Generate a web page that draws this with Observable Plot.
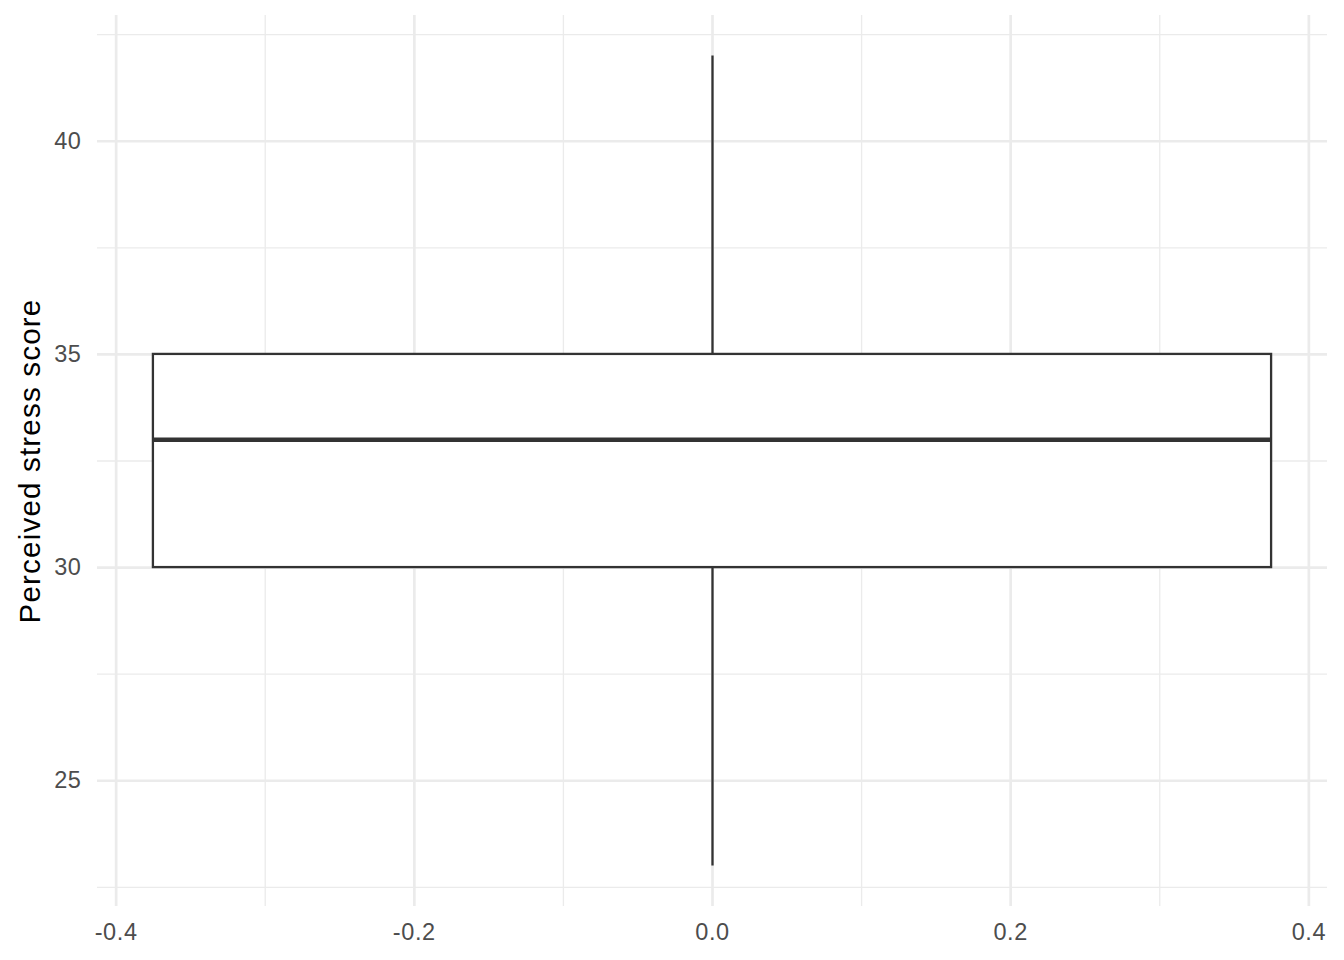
<!DOCTYPE html>
<html>
<head>
<meta charset="utf-8">
<script src="https://cdn.jsdelivr.net/npm/d3@7"></script>
<script src="https://cdn.jsdelivr.net/npm/@observablehq/plot@0.6"></script>
<style>
  body { margin: 0; background: #fff; }
  svg { font-family: "Liberation Sans", Arial, sans-serif; }
  g[aria-label="x-axis tick label"] text, g[aria-label="y-axis tick label"] text { letter-spacing: 0.6px; }
  g[aria-label="text"] text { letter-spacing: 1.2px; }
</style>
</head>
<body>
<div id="chart"></div>
<script>
// Box statistics
const groups = [0];
const lowerWhisker = [23];
const q1 = [30];
const median = [33];
const q3 = [35];
const upperWhisker = [42];
const boxHalfWidth = 0.375;

const xMajor = [-0.4, -0.2, 0.0, 0.2, 0.4];
const xMinor = [-0.3, -0.1, 0.1, 0.3];
const yMajor = [25, 30, 35, 40];
const yMinor = [22.5, 27.5, 32.5, 37.5, 42.5];
const yTitle = ["Perceived stress score"];

const boxes = groups.map((g, i) => ({
  x: g, x1: g - boxHalfWidth, x2: g + boxHalfWidth,
  lo: lowerWhisker[i], q1: q1[i], med: median[i], q3: q3[i], hi: upperWhisker[i]
}));

const grid = "#EBEBEB";
const chart = Plot.plot({
  width: 1344,
  height: 960,
  marginLeft: 97,
  marginRight: 17,
  marginTop: 15,
  marginBottom: 54,
  x: { domain: [-0.4125, 0.4125] },
  y: { domain: [22.05, 42.95] },
  style: { background: "#fff" },
  marks: [
    Plot.ruleX(xMinor, { stroke: grid, strokeWidth: 1.3 }),
    Plot.ruleY(yMinor, { stroke: grid, strokeWidth: 1.3 }),
    Plot.ruleX(xMajor, { stroke: grid, strokeWidth: 2.7 }),
    Plot.ruleY(yMajor, { stroke: grid, strokeWidth: 2.7 }),
    Plot.axisX(xMajor, { tickSize: 0, tickPadding: 17, tickFormat: d => d.toFixed(1), label: null, fill: "#4D4D4D", fontSize: 23.5 }),
    Plot.axisY(yMajor, { tickSize: 0, tickPadding: 16, label: null, fill: "#4D4D4D", fontSize: 23.5 }),
    Plot.ruleX(boxes, { x: "x", y1: "lo", y2: "q1", stroke: "#333333", strokeWidth: 2.3 }),
    Plot.ruleX(boxes, { x: "x", y1: "q3", y2: "hi", stroke: "#333333", strokeWidth: 2.3 }),
    Plot.rect(boxes, { x1: "x1", x2: "x2", y1: "q1", y2: "q3", fill: "white", stroke: "#333333", strokeWidth: 2.3 }),
    Plot.ruleY(boxes, { y: "med", x1: "x1", x2: "x2", stroke: "#333333", strokeWidth: 4.6 }),
    Plot.text(yTitle, {
      frameAnchor: "left", dx: -67, rotate: -90, fontSize: 29.5, fill: "black",
      textAnchor: "middle", lineAnchor: "middle"
    })
  ]
});
document.getElementById("chart").appendChild(chart);
</script>
</body>
</html>
